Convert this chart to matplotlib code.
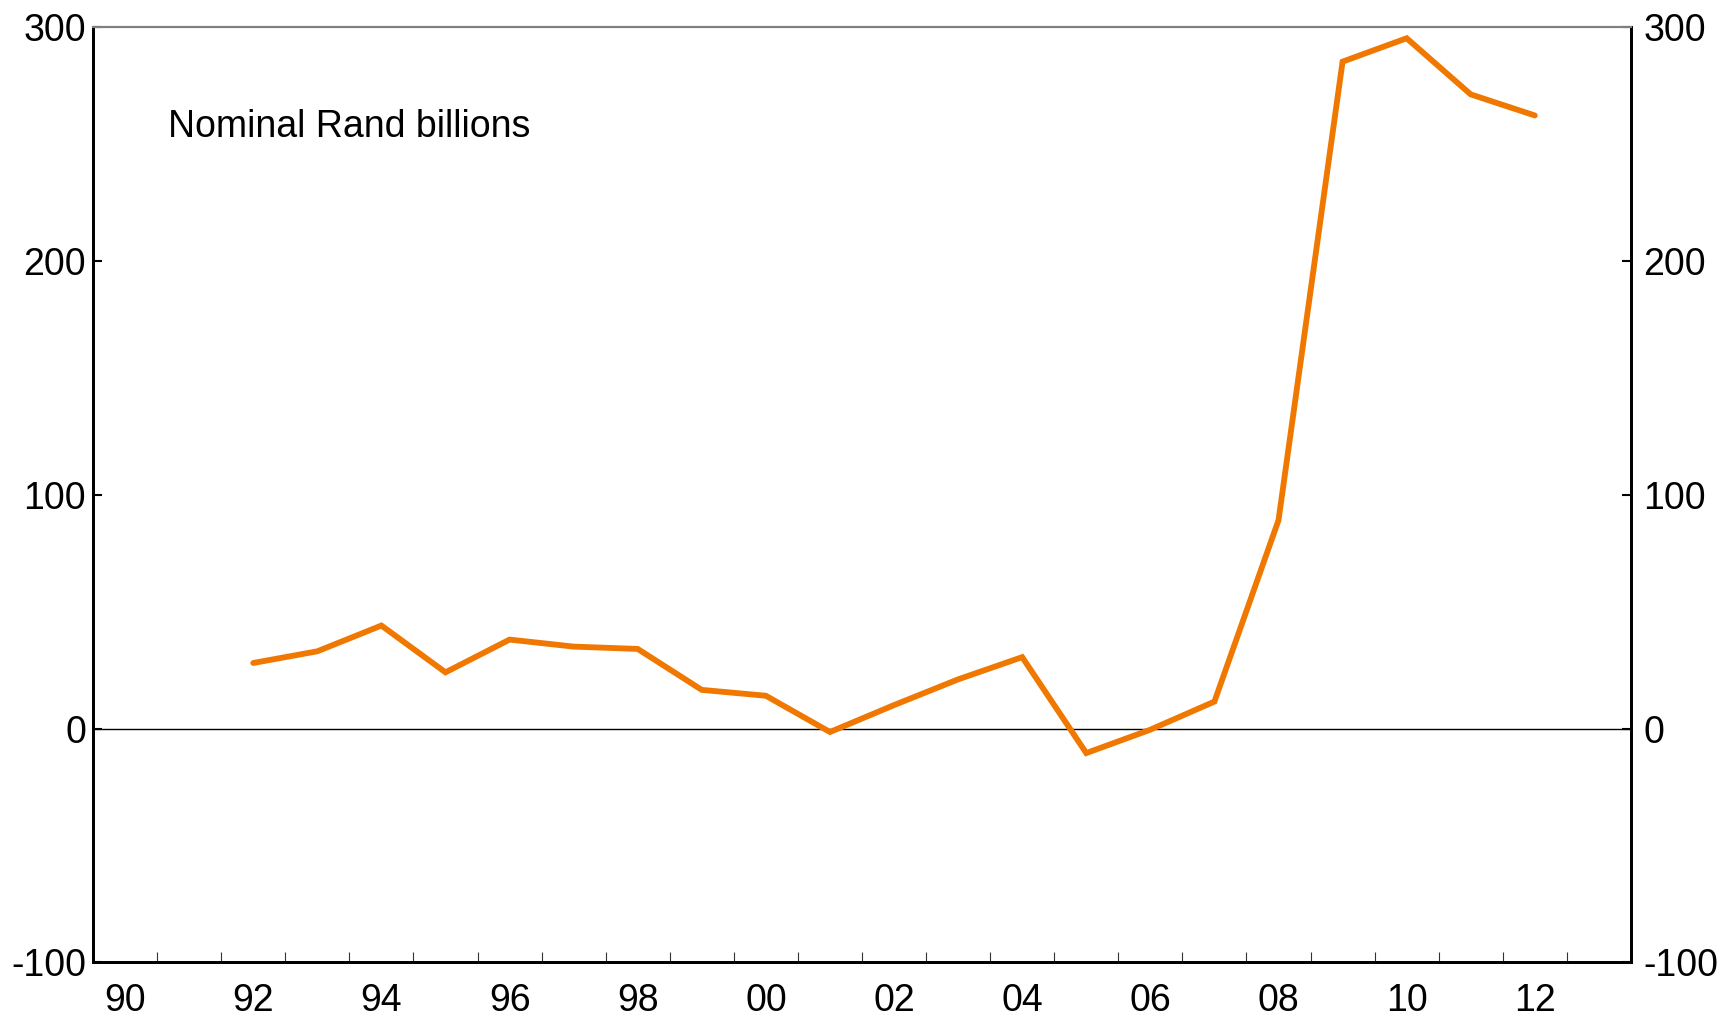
import matplotlib.pyplot as plt
import numpy as np

plt.rcParams['font.family'] = ['Liberation Sans', 'DejaVu Sans']
plt.rcParams['axes.unicode_minus'] = False

# annual values, nominal Rand billions
years = [1992, 1993, 1994, 1995, 1996, 1997, 1998, 1999, 2000, 2001, 2002,
         2003, 2004, 2005, 2006, 2007, 2008, 2009, 2010, 2011, 2012]
values = [28, 33, 44, 24, 38, 35, 34, 16.5, 14, -1.5, 10,
          21, 30.5, -10.5, -0.5, 11.5, 89, 285, 295, 271, 262]

label_years = [1990, 1992, 1994, 1996, 1998, 2000, 2002, 2004, 2006, 2008, 2010, 2012]
label_text = ["90", "92", "94", "96", "98", "00", "02", "04", "06", "08", "10", "12"]
y_ticks = [-100, 0, 100, 200, 300]

line_color = "#F07800"
fs = 27

fig = plt.figure(figsize=(17.33, 10.17), dpi=100)
ax = fig.add_axes([0.0537, 0.0536, 0.8874, 0.9203])

# points sit in the middle of each year
x = np.array(years) + 0.5
ax.axhline(0, color="black", lw=1.0, zorder=1)
ax.plot(x, values, color=line_color, lw=4.2, solid_capstyle="round",
        solid_joinstyle="miter", zorder=3)

ax.set_xlim(1990, 2014)
ax.set_ylim(-100, 300)

# year boundaries as ticks, labels centred in the year
ax.set_xticks(range(1991, 2014))
ax.set_xticklabels([])
ax.set_xticks(np.array(label_years) + 0.5, minor=True)
ax.set_xticklabels(label_text, minor=True)
ax.tick_params(axis="x", which="major", direction="in", length=7, width=0.8,
               color="#333333")
ax.tick_params(axis="x", which="minor", length=0, pad=15, labelsize=fs)

ax.set_yticks(y_ticks)
ax.tick_params(axis="y", which="major", direction="in", length=6.5, width=1.5,
               labelsize=fs, pad=5)

ax2 = ax.twinx()
ax2.set_ylim(-100, 300)
ax2.set_yticks(y_ticks)
ax2.tick_params(axis="y", which="major", direction="in", length=6.5, width=1.5,
                labelsize=fs, pad=9)

for a in (ax, ax2):
    a.spines["left"].set_linewidth(2)
    a.spines["right"].set_linewidth(2)
    a.spines["bottom"].set_linewidth(2)
    a.spines["top"].set_linewidth(1.5)
    a.spines["top"].set_color("#808080")

ax.text(0.049, 0.893, "Nominal Rand billions", transform=ax.transAxes,
        fontsize=fs, va="center", ha="left")

plt.savefig("out.png", dpi=100)
